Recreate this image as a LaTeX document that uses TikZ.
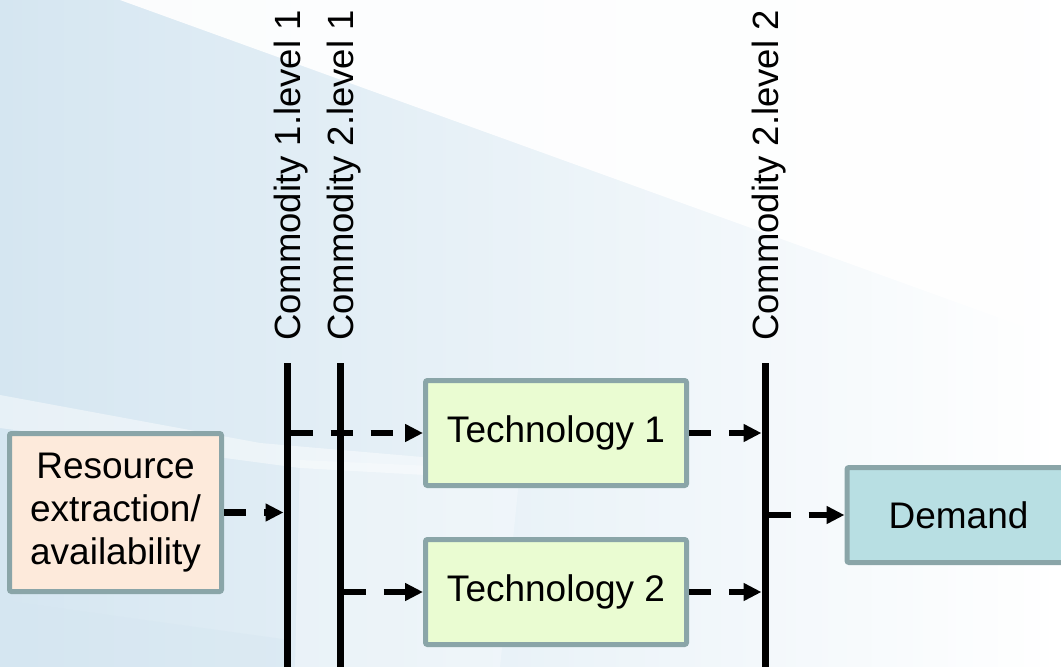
\documentclass[tikz,border=0pt]{standalone}
\usepackage{fontspec}
\setmainfont{Liberation Sans}
\usetikzlibrary{arrows.meta,calc}
\definecolor{bdr}{HTML}{8AA5A8}
\definecolor{resfill}{HTML}{FDEADB}
\definecolor{techfill}{HTML}{EAFCD2}
\definecolor{demfill}{HTML}{B8DFE3}
\definecolor{bgA}{HTML}{D5E6F1}
\definecolor{bgB}{HTML}{F1F6FB}
\tikzset{
  box/.style={draw=bdr, line width=5pt, rounded corners=2pt, inner sep=0pt,
    align=center, font=\fontsize{37}{43}\selectfont},
  bar/.style={line width=7pt, black},
  flow/.style={line width=6.5pt, black, dash pattern=on 22pt off 18pt,
    -{Triangle[length=18pt,width=17pt]}},
  lbl/.style={rotate=90, anchor=base west, inner sep=0pt,
    font=\fontsize{36.5}{43}\selectfont}
}
\begin{document}
\begin{tikzpicture}[x=1pt,y=-1pt]
\useasboundingbox (0,0) rectangle (1061,667);
\begin{scope}
\clip (0,0) rectangle (1061,667);
% background
\shade[left color=bgA, middle color=bgB, right color=white] (0,0) rectangle (1061,667);
\fill[white, opacity=0.9] (120,0) -- (1061,0) -- (1061,340) -- cycle;
\fill[white, opacity=0.45] (0,395) -- (260,443) -- (480,462) -- (480,478) -- (300,468) -- (0,428) -- cycle;
\fill[white, opacity=0.3] (300,460) -- (520,470) -- (500,667) -- (295,667) -- cycle;
\fill[bgA, opacity=0.4] (0,600) -- (290,640) -- (290,667) -- (0,667) -- cycle;

% commodity bars
\coordinate (l1t) at (287,363); \coordinate (l1b) at (287,672);
\coordinate (l2t) at (340,363); \coordinate (l2b) at (340,672);
\coordinate (l3t) at (765,363); \coordinate (l3b) at (765,672);
\draw[bar] (l1t) -- (l1b);
\draw[bar] (l2t) -- (l2b);
\draw[bar] (l3t) -- (l3b);

% labels
\node[lbl] (c1) at (300,341) {Commodity 1.level 1};
\node[lbl] (c2) at (353,341) {Commodity 2.level 1};
\node[lbl] (c3) at (778,341) {Commodity 2.level 2};

% boxes
\node[box, fill=resfill, minimum width=212pt, minimum height=158pt] (res) at (115.5,512.5)
  {Resource\\extraction/\\availability};
\node[box, fill=techfill, minimum width=261pt, minimum height=105pt] (t1) at (556,433) {Technology 1};
\node[box, fill=techfill, minimum width=261pt, minimum height=105pt] (t2) at (556,592) {Technology 2};
\node[box, fill=demfill, minimum width=223pt, minimum height=95pt] (dem) at (958.5,515) {Demand};

% flows
\draw[flow, shorten >=3.5pt] (res.east) -- (res.east -| l1t);
\draw[flow, shorten <=3.5pt] (t1.west -| l1t) -- (t1.west);
\draw[flow, shorten <=3.5pt] (t2.west -| l2t) -- (t2.west);
\draw[flow, shorten >=3.5pt] (t1.east) -- (t1.east -| l3t);
\draw[flow, shorten >=3.5pt] (t2.east) -- (t2.east -| l3t);
\draw[flow, shorten <=3.5pt] (dem.west -| l3t) -- (dem.west);
\end{scope}
\end{tikzpicture}
\end{document}
